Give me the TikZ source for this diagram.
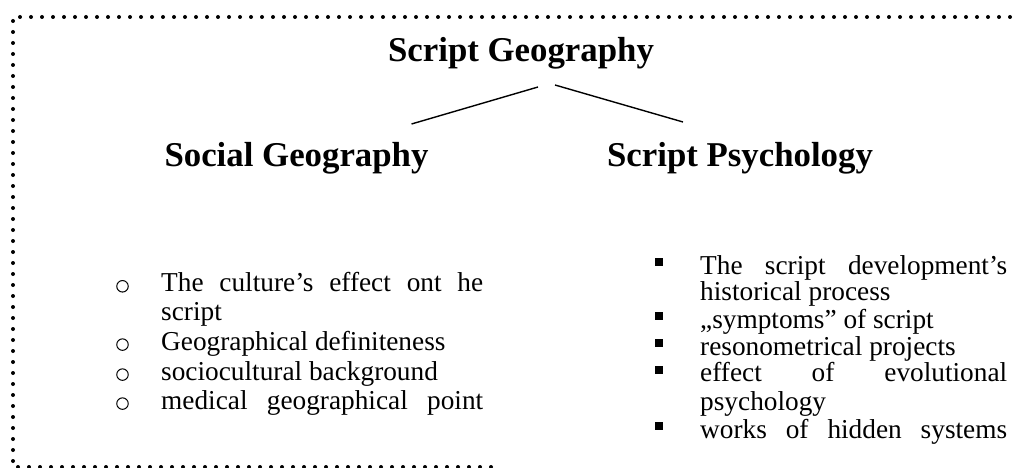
\documentclass[tikz,border=0pt]{standalone}
\usepackage{fontspec}
\setmainfont{Liberation Serif}
\usetikzlibrary{calc}
\newcommand\bodysize{\fontsize{27.3}{32}\selectfont}
\newcommand\headsize{\fontsize{34.8}{42}\selectfont\bfseries}
\newcommand\jline[2]{\makebox[#1][s]{#2}}
\tikzset{
  head/.style={anchor=base, font=\headsize, inner sep=0pt},
  itemtext/.style={anchor=base west, font=\bodysize, inner sep=0pt},
  circbullet/.style={circle, draw=black, line width=1pt, minimum size=11.5pt, inner sep=0pt, anchor=center},
  sqbullet/.style={fill=black, draw=none, minimum size=8pt, inner sep=0pt, anchor=center},
  branch/.style={line width=1.4pt},
  framedots/.style={line width=4pt, line cap=round, dash pattern=on 0pt off 11pt}
}
\begin{document}
\begin{tikzpicture}[x=1pt,y=-1pt]
\useasboundingbox (0,0) rectangle (1017,468);
% dotted frame
\draw[framedots] (1010,17) -- (13,17) -- (13,467) -- (500,467);
% headings
\node[head] (title) at (521,62) {Script Geography};
\node[head] (social) at (296.5,167) {Social Geography};
\node[head] (psych) at (740,167) {Script Psychology};
% branch lines
\coordinate (tl) at ($(title.base)+(17,25)$);
\coordinate (tr) at ($(title.base)+(34,23)$);
\coordinate (sl) at ($(social.base)+(115,-43)$);
\coordinate (pr) at ($(psych.base)+(-57,-45)$);
\draw[branch] (sl) -- (tl);
\draw[branch] (tr) -- (pr);
% left list
\node[circbullet] (lb1) at (122.5,286.3) {};
\node[itemtext] (l1a) at (161,291.7) {\jline{322pt}{The culture’s effect ont he}};
\node[itemtext] (l1b) at (161,320.5) {script};
\node[circbullet] (lb2) at (122.5,344.6) {};
\node[itemtext] (l2) at (161,350) {Geographical definiteness};
\node[circbullet] (lb3) at (122.5,374.6) {};
\node[itemtext] (l3) at (161,380) {sociocultural background};
\node[circbullet] (lb4) at (122.5,403.6) {};
\node[itemtext] (l4) at (161,409) {\jline{322pt}{medical geographical point}};
% right list
\node[sqbullet] (rb1) at (659,262.3) {};
\node[itemtext] (r1a) at (700,274.3) {\jline{307pt}{The script development’s}};
\node[itemtext] (r1b) at (700,300.5) {historical process};
\node[sqbullet] (rb2) at (659,316.3) {};
\node[itemtext] (r2) at (700,328.3) {„symptoms” of script};
\node[sqbullet] (rb3) at (659,343) {};
\node[itemtext] (r3) at (700,355) {resonometrical projects};
\node[sqbullet] (rb4) at (659,369.7) {};
\node[itemtext] (r4a) at (700,381.7) {\jline{307pt}{effect of evolutional}};
\node[itemtext] (r4b) at (700,410) {psychology};
\node[sqbullet] (rb5) at (659,426.3) {};
\node[itemtext] (r5) at (700,438.3) {\jline{307pt}{works of hidden systems}};
\end{tikzpicture}
\end{document}
